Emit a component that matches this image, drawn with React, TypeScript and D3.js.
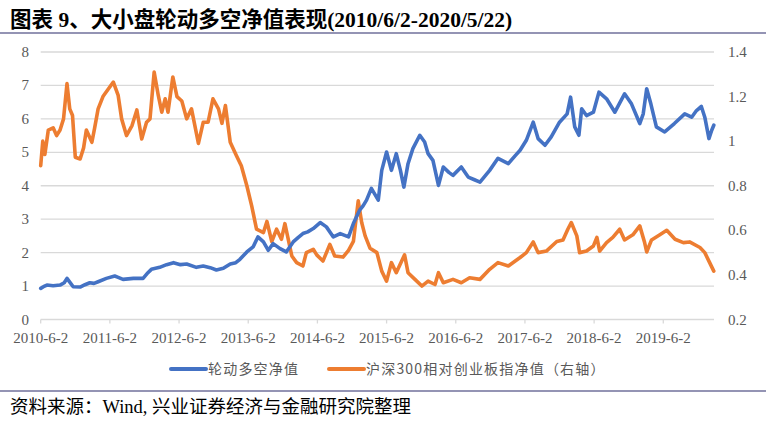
import React from "react";
import * as d3 from "d3";

// x positions are in "label intervals" since 2010-6-2 (one interval per tick label)
const tickLabels = ["2010-6-2","2011-6-2","2012-6-2","2013-6-2","2014-6-2","2015-6-2","2016-6-2","2017-6-2","2018-6-2","2019-6-2"];
const leftTicks = [0,1,2,3,4,5,6,7,8];
const rightTicks = [0.2,0.4,0.6,0.8,1,1.2,1.4];

const rotationSeries: [number, number][] = [
  [0.00,0.93],[0.04,0.98],[0.09,1.03],[0.18,1.01],[0.28,1.03],[0.34,1.10],[0.38,1.23],[0.42,1.12],[0.47,0.98],[0.57,0.97],[0.64,1.04],[0.71,1.10],[0.77,1.08],[0.83,1.13],
  [0.95,1.23],[1.07,1.30],[1.12,1.26],[1.19,1.20],[1.34,1.23],[1.48,1.23],[1.55,1.40],[1.60,1.50],[1.72,1.56],[1.82,1.64],[1.92,1.70],
  [2.02,1.64],[2.11,1.66],[2.25,1.56],[2.35,1.60],[2.45,1.55],[2.54,1.48],[2.64,1.53],[2.74,1.66],[2.82,1.70],[2.88,1.80],[2.98,2.02],
  [3.07,2.17],[3.14,2.47],[3.22,2.32],[3.29,2.07],[3.36,2.27],[3.46,2.12],[3.55,2.02],[3.65,2.32],
  [3.72,2.45],[3.79,2.57],[3.86,2.62],[3.94,2.72],[4.04,2.90],[4.13,2.77],[4.23,2.47],[4.33,2.57],[4.45,2.47],[4.52,2.87],
  [4.61,3.27],[4.66,3.40],[4.71,3.57],[4.78,3.92],[4.88,3.57],[4.93,4.46],[5.00,5.01],[5.07,4.46],[5.14,4.96],
  [5.20,4.46],[5.25,3.96],[5.31,4.66],[5.38,5.11],[5.48,5.51],[5.55,5.31],[5.60,4.96],[5.67,4.76],
  [5.75,4.01],[5.82,4.56],[5.90,4.40],[5.96,4.31],[6.08,4.56],[6.18,4.26],[6.27,4.18],[6.35,4.11],[6.49,4.46],[6.61,4.82],
  [6.76,4.66],[6.86,4.90],[6.93,5.06],[7.02,5.36],[7.12,5.90],[7.19,5.41],[7.29,5.21],[7.38,5.46],[7.50,5.90],
  [7.61,6.15],[7.66,6.65],[7.72,5.76],[7.78,5.51],[7.82,6.30],[7.89,6.10],[7.99,6.20],[8.07,6.80],
  [8.18,6.60],[8.30,6.20],[8.44,6.75],[8.54,6.45],[8.66,5.86],[8.71,6.15],[8.76,6.90],[8.82,6.45],
  [8.90,5.76],[9.02,5.61],[9.16,5.86],[9.31,6.15],[9.41,6.05],[9.48,6.25],[9.55,6.37],[9.60,6.05],
  [9.66,5.41],[9.70,5.66],[9.73,5.81]
];

const relativeSeries: [number, number][] = [
  [0.00,0.89],[0.03,1.00],[0.06,0.94],[0.11,1.05],[0.18,1.06],[0.23,1.025],[0.28,1.05],[0.33,1.10],
  [0.38,1.258],[0.42,1.145],[0.46,1.115],[0.50,0.928],[0.57,0.92],[0.62,0.97],[0.66,1.05],[0.74,0.995],
  [0.78,1.06],[0.83,1.145],[0.90,1.20],[0.98,1.235],[1.05,1.265],[1.12,1.205],[1.17,1.10],[1.24,1.025],
  [1.32,1.07],[1.39,1.14],[1.46,1.01],[1.53,1.085],[1.58,1.10],[1.64,1.31],[1.70,1.205],[1.75,1.13],
  [1.80,1.19],[1.84,1.13],[1.91,1.288],[1.97,1.20],[2.04,1.18],[2.11,1.10],[2.18,1.145],[2.28,0.99],
  [2.35,1.085],[2.42,1.085],[2.49,1.19],[2.57,1.145],[2.62,1.08],[2.67,1.16],[2.74,0.995],[2.83,0.935],
  [2.90,0.89],[2.98,0.80],[3.05,0.71],[3.12,0.605],[3.22,0.59],[3.27,0.64],[3.34,0.55],[3.41,0.605],
  [3.48,0.56],[3.53,0.63],[3.63,0.485],[3.70,0.455],[3.79,0.44],[3.84,0.50],[3.94,0.515],[3.99,0.49],
  [4.08,0.462],[4.18,0.537],[4.25,0.485],[4.37,0.48],[4.45,0.51],[4.52,0.55],[4.59,0.732],[4.64,0.635],
  [4.69,0.575],[4.76,0.52],[4.86,0.50],[4.93,0.417],[5.00,0.372],[5.07,0.455],[5.14,0.41],[5.26,0.49],
  [5.31,0.41],[5.41,0.38],[5.51,0.35],[5.60,0.372],[5.70,0.357],[5.75,0.41],[5.82,0.365],[5.96,0.38],
  [6.08,0.365],[6.20,0.387],[6.35,0.38],[6.49,0.425],[6.61,0.455],[6.76,0.44],[6.93,0.478],[7.02,0.50],
  [7.12,0.548],[7.19,0.50],[7.31,0.507],[7.46,0.55],[7.55,0.557],[7.62,0.605],[7.67,0.635],[7.75,0.575],
  [7.79,0.50],[7.89,0.507],[7.99,0.53],[8.04,0.568],[8.08,0.507],[8.18,0.545],[8.27,0.568],[8.37,0.605],
  [8.44,0.557],[8.56,0.58],[8.66,0.62],[8.73,0.545],[8.76,0.503],[8.83,0.557],[8.95,0.58],[9.05,0.60],
  [9.17,0.56],[9.29,0.545],[9.38,0.548],[9.53,0.523],[9.60,0.50],[9.67,0.455],[9.73,0.417]
];

const title = "图表 9、大小盘轮动多空净值表现(2010/6/2-2020/5/22)";
const legendNames = ["轮动多空净值", "沪深300相对创业板指净值（右轴）"];
const source = "资料来源：Wind, 兴业证券经济与金融研究院整理";

const W = 766, H = 424;
const plotLeft = 40.7, plotRight = 714, plotTop = 52, plotBottom = 319.5;
const BLUE = "#4472C4", ORANGE = "#ED7D31";
const serif = "'Liberation Serif', 'Times New Roman', 'Noto Sans CJK SC', serif";

export default function App() {
  const x = d3.scaleLinear().domain([0, 9.733]).range([plotLeft, plotRight]);
  const yL = d3.scaleLinear().domain([0, 8]).range([plotBottom, plotTop]);
  const yR = d3.scaleLinear().domain([0.2, 1.4]).range([plotBottom, plotTop]);

  const lineL = d3.line<[number, number]>().x(d => x(d[0])).y(d => yL(d[1]));
  const lineR = d3.line<[number, number]>().x(d => x(d[0])).y(d => yR(d[1]));

  return (
    <svg width={W} height={H} style={{ position: "absolute", left: 0, top: 0, background: "#fff" }}>
      <text x={10} y={27} fontFamily={serif} fontWeight="bold" fontSize={21.5} fill="#000">{title}</text>
      <line x1={0} x2={W} y1={33} y2={33} stroke="#2b2b6b" strokeWidth={1.2} />

      {leftTicks.map(v => (
        <line key={"g" + v} x1={plotLeft} x2={plotRight} y1={yL(v)} y2={yL(v)} stroke="#d9d9d9" strokeWidth={1.3} />
      ))}
      {tickLabels.map((_, i) => (
        <line key={"t" + i} x1={x(i)} x2={x(i)} y1={plotBottom} y2={plotBottom + 4} stroke="#d9d9d9" strokeWidth={1.3} />
      ))}

      {leftTicks.map(v => (
        <text key={"l" + v} x={29} y={yL(v) + 5} textAnchor="end" fontFamily={serif} fontSize={15} fill="#595959">{v}</text>
      ))}
      {rightTicks.map(v => (
        <text key={"r" + v} x={728} y={yR(v) + 5} textAnchor="start" fontFamily={serif} fontSize={15} fill="#595959">{d3.format("~g")(v)}</text>
      ))}
      {tickLabels.map((s, i) => (
        <text key={"x" + i} x={x(i)} y={343} textAnchor="middle" fontFamily={serif} fontSize={15} fill="#595959">{s}</text>
      ))}

      <path d={lineR(relativeSeries) || ""} fill="none" stroke={ORANGE} strokeWidth={3.6} strokeLinejoin="round" strokeLinecap="round" />
      <path d={lineL(rotationSeries) || ""} fill="none" stroke={BLUE} strokeWidth={3.6} strokeLinejoin="round" strokeLinecap="round" />

      <line x1={171} x2={206} y1={369} y2={369} stroke={BLUE} strokeWidth={4} strokeLinecap="round" />
      <text x={208} y={374} fontFamily="'Noto Sans CJK SC', sans-serif" fontSize={14} letterSpacing={1.2} fill="#595959">{legendNames[0]}</text>
      <line x1={329} x2={364} y1={369} y2={369} stroke={ORANGE} strokeWidth={4} strokeLinecap="round" />
      <text x={366} y={374} fontFamily="'Noto Sans CJK SC', sans-serif" fontSize={14} letterSpacing={1.2} fill="#595959">{legendNames[1]}</text>

      <line x1={0} x2={W} y1={391} y2={391} stroke="#2b2b6b" strokeWidth={1.2} />
      <text x={10} y={413} fontFamily={serif} fontSize={18.5} fill="#000">{source}</text>
    </svg>
  );
}
